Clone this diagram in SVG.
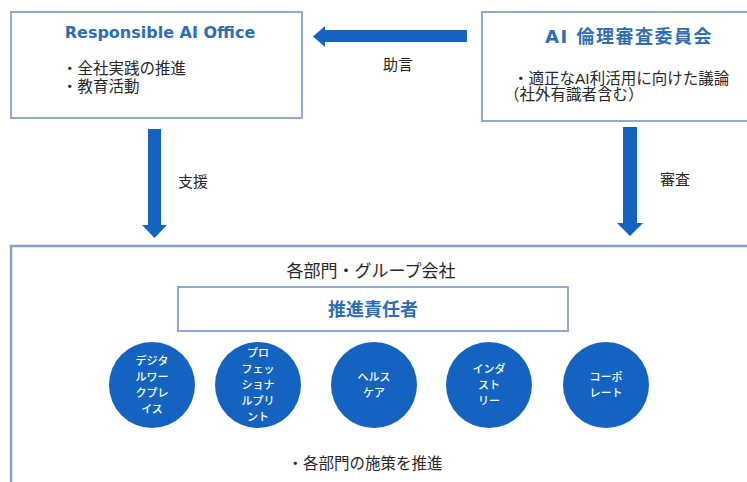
<svg xmlns="http://www.w3.org/2000/svg" width="747" height="482" viewBox="0 0 747 482">
<style>
.box{fill:#fff;stroke:#8fa9d3;stroke-width:2}
.obox{fill:#fff;stroke:#8a9fc2;stroke-width:2.5}
.t{font-family:"Liberation Sans","Noto Sans CJK JP",sans-serif;fill:#262626}
.title{font-family:"DejaVu Sans","Noto Sans CJK JP",sans-serif;font-weight:bold;fill:#2e6cb6}
.arr{fill:#1463c0}
.c{fill:#1463c0}
.ct{font-family:"Noto Sans CJK JP",sans-serif;fill:#fff;font-size:11px;font-weight:500;text-anchor:middle}
</style>
<rect width="747" height="482" fill="#fff"/>
<g id="responsible-ai-office">
<rect class="box" x="11" y="12" width="291" height="106"/>
<text class="title" x="160" y="38" font-size="16" text-anchor="middle">Responsible AI Office</text>
<text class="t" x="62" y="74" font-size="15.5">・全社実践の推進</text>
<text class="t" x="62" y="92" font-size="15.5">・教育活動</text>
</g>
<g id="ai-ethics-committee">
<rect class="box" x="482" y="12" width="270" height="109"/>
<text class="title" x="629" y="43" font-size="18" letter-spacing="1.5" text-anchor="middle">AI 倫理審査委員会</text>
<text class="t" x="513" y="84" font-size="15.5">・適正なAI利活用に向けた議論</text>
<text class="t" x="504" y="100" font-size="15.5">（社外有識者含む）</text>
</g>
<g id="connectors">
<polygon class="arr" points="467,30 325,30 325,26 313,36.5 325,47 325,42 467,42"/>
<text class="t" x="398" y="70" font-size="15" text-anchor="middle">助言</text>
<polygon class="arr" points="148,129 161,129 161,225 167,225 154.5,238 142,225 148,225"/>
<text class="t" x="178" y="187" font-size="15">支援</text>
<polygon class="arr" points="623,127 637,127 637,223 643,223 630,236 617,223 623,223"/>
<text class="t" x="660" y="185" font-size="15">審査</text>
</g>
<g id="departments">
<rect class="obox" x="11" y="246" width="745" height="250"/>
<text class="t" x="371" y="277" font-size="17" text-anchor="middle">各部門・グループ会社</text>
<text class="t" x="365" y="469" font-size="15.5" text-anchor="middle">・各部門の施策を推進</text>
</g>
<g id="promotion-lead">
<rect class="box" x="178" y="287" width="390" height="44"/>
<text class="title" x="373" y="316" font-size="18" text-anchor="middle">推進責任者</text>
</g>
<g id="digital-workplace">
<circle class="c" cx="152" cy="385" r="43"/>
<text class="ct" x="152" y="365"><tspan x="152">デジタ</tspan><tspan x="152" dy="16">ルワー</tspan><tspan x="152" dy="16">クプレ</tspan><tspan x="152" dy="16">イス</tspan></text>
</g>
<g id="professional-print">
<circle class="c" cx="258" cy="385" r="43"/>
<text class="ct" x="258" y="357"><tspan x="258">プロ</tspan><tspan x="258" dy="16">フェッ</tspan><tspan x="258" dy="16">ショナ</tspan><tspan x="258" dy="16">ルプリ</tspan><tspan x="258" dy="16">ント</tspan></text>
</g>
<g id="healthcare">
<circle class="c" cx="374" cy="385" r="43"/>
<text class="ct" x="374" y="381"><tspan x="374">ヘルス</tspan><tspan x="374" dy="16">ケア</tspan></text>
</g>
<g id="industry">
<circle class="c" cx="489" cy="385" r="43"/>
<text class="ct" x="489" y="373"><tspan x="489">インダ</tspan><tspan x="489" dy="16">スト</tspan><tspan x="489" dy="16">リー</tspan></text>
</g>
<g id="corporate">
<circle class="c" cx="606" cy="385" r="43"/>
<text class="ct" x="606" y="381"><tspan x="606">コーポ</tspan><tspan x="606" dy="16">レート</tspan></text>
</g>
</svg>
